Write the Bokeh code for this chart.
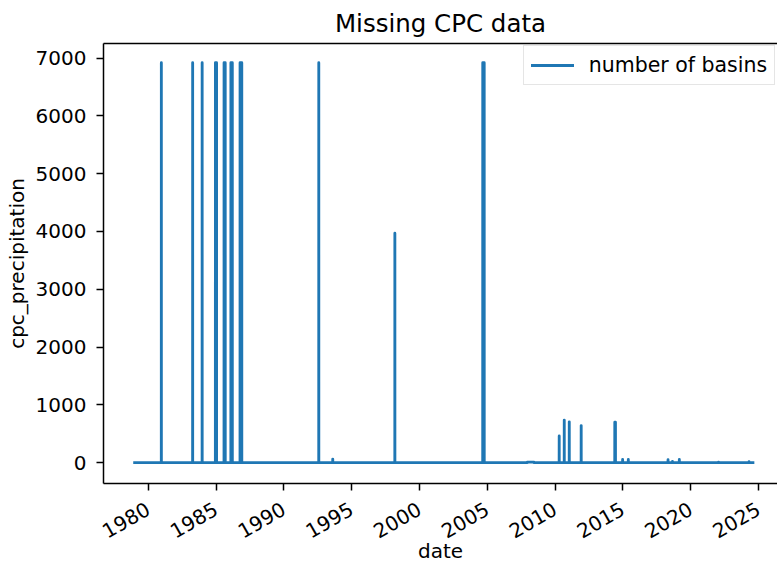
import math
import pandas as pd
from bokeh.plotting import figure
from bokeh.models import (Range1d, FixedTicker, DatetimeTickFormatter, LinearAxis,
                          Legend, LegendItem, ColumnDataSource)
from bokeh.embed import file_html
from bokeh.resources import INLINE

# ---- data ----
series_start = "1979-01-01"
series_end = "2024-08-03"

run_start = ["1980-12-20", "1983-04-12", "1983-12-24", "1984-12-15", "1985-08-05",
             "1986-02-05", "1986-10-10", "1992-07-30", "1993-08-10", "1998-03-10",
             "2004-09-01", "2007-12-15", "2010-04-22", "2010-09-05", "2011-01-18",
             "2011-12-05", "2014-05-28", "2014-12-25", "2015-05-27", "2018-05-01",
             "2018-08-28", "2019-03-01", "2022-01-20", "2024-04-20"]
run_end = ["1980-12-20", "1983-04-12", "1983-12-24", "1985-01-15", "1985-09-05",
           "1986-03-15", "1986-11-25", "1992-07-30", "1993-08-10", "1998-03-10",
           "2004-10-10", "2008-06-10", "2010-04-22", "2010-09-05", "2011-01-18",
           "2011-12-05", "2014-06-15", "2014-12-25", "2015-05-27", "2018-05-01",
           "2018-08-28", "2019-03-01", "2022-01-20", "2024-04-20"]
run_value = [6920, 6920, 6920, 6920, 6920,
             6920, 6920, 6920, 60, 3970,
             6920, 8, 460, 735, 705,
             640, 700, 55, 55, 50,
             20, 55, 8, 15]

tick_years = [1980, 1985, 1990, 1995, 2000, 2005, 2010, 2015, 2020, 2025]
y_ticks = [0, 1000, 2000, 3000, 4000, 5000, 6000, 7000]

# ---- daily series ----
dates = pd.date_range(series_start, series_end, freq="D")
counts = pd.Series(0.0, index=dates)
for s, e, v in zip(run_start, run_end, run_value):
    counts.loc[s:e] = v
src = ColumnDataSource(dict(date=dates, count=counts.values))

FONT = "DejaVu Sans"
BLUE = "#1f77b4"

p = figure(width=777, height=567, x_axis_type="datetime",
           x_range=Range1d(pd.Timestamp("1976-09-14"), pd.Timestamp("2026-05-27")),
           y_range=Range1d(-362, 7254),
           output_backend="svg", toolbar_location=None,
           title="Missing CPC data",
           min_border_left=103, min_border_right=0, min_border_top=41, min_border_bottom=84)

p.grid.visible = False
p.outline_line_color = None
p.background_fill_color = "white"
p.border_fill_color = "white"

p.title.text_font = FONT
p.title.text_font_size = "24.5px"
p.title.text_font_style = "normal"
p.title.text_color = "black"
p.title.align = "center"
p.title.standoff = 12

r = p.line(x="date", y="count", source=src, line_width=2.85, line_color=BLUE,
           line_join="round", line_cap="square")

xt = [pd.Timestamp(f"{y}-01-01").timestamp() * 1000 for y in tick_years]
xa = p.xaxis[0]
xa.ticker = FixedTicker(ticks=xt)
xa.formatter = DatetimeTickFormatter(years="%Y", months="%Y", days="%Y")
xa.major_label_orientation = math.pi / 6
xa.axis_label = "date"

ya = p.yaxis[0]
ya.ticker = FixedTicker(ticks=y_ticks)
ya.axis_label = "cpc_precipitation"

for ax in (xa, ya):
    ax.axis_line_width = 1.5
    ax.axis_line_color = "black"
    ax.major_tick_line_width = 1.5
    ax.major_tick_line_color = "black"
    ax.major_tick_out = 7
    ax.major_tick_in = 0
    ax.minor_tick_out = 0
    ax.minor_tick_in = 0
    ax.major_label_text_font = FONT
    ax.major_label_text_font_size = "20px"
    ax.major_label_text_color = "black"
    ax.axis_label_text_font = FONT
    ax.axis_label_text_font_size = "20px"
    ax.axis_label_text_font_style = "normal"
    ax.axis_label_text_color = "black"

xa.major_label_standoff = 17
xa.axis_label_standoff = -9
ya.major_label_standoff = 10
ya.axis_label_standoff = 4

top = LinearAxis(ticker=FixedTicker(ticks=[]), axis_line_width=1.5, axis_line_color="black",
                 major_tick_out=0, major_tick_in=0, minor_tick_out=0, minor_tick_in=0,
                 major_label_text_font_size="0px")
p.add_layout(top, "above")

legend = Legend(items=[LegendItem(label="number of basins", renderers=[r])],
                location=(419.7, 397.6), margin=0, padding=7, spacing=0,
                glyph_width=43, glyph_height=20, label_standoff=15, label_height=20,
                label_text_font=FONT, label_text_font_size="20.5px", label_text_color="black",
                border_line_color="#cccccc", border_line_width=1,
                background_fill_color="white", background_fill_alpha=0.8)
p.add_layout(legend, "center")

open("out.html", "w").write(file_html(p, INLINE))
